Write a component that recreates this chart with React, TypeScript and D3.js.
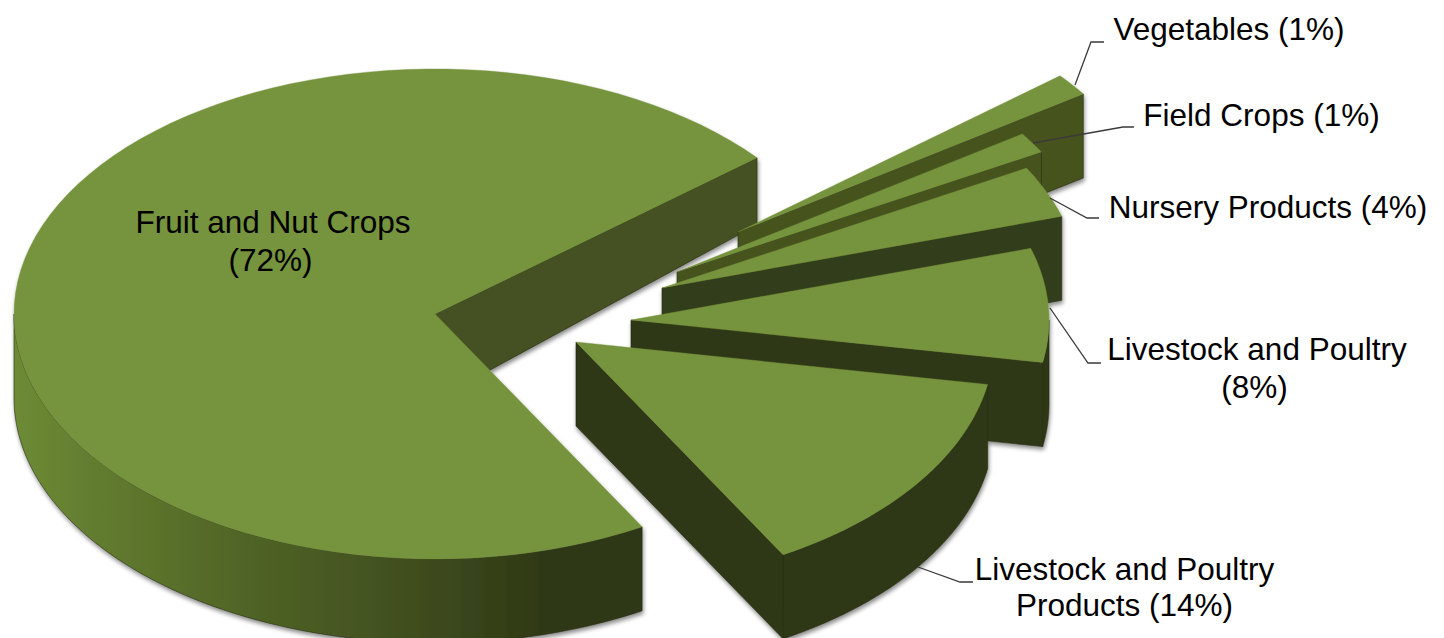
import React from "react";
import * as d3 from "d3";

// Share of agricultural value by commodity group, percent.
const categories = [
  "Fruit and Nut Crops",
  "Livestock and Poultry Products",
  "Livestock and Poultry",
  "Nursery Products",
  "Field Crops",
  "Vegetables",
];
const shares = [72, 14, 8, 4, 1, 1];

// Exploded position of each wedge's tip on the page.
const wedgeTipX = [435, 576, 631, 662, 677, 738];
const wedgeTipY = [314, 342, 320, 288, 272, 232];
const cutFaceColors = ["#445120", "#2f3817", "#2f3817", "#333d1a", "#46531f", "#46531f"];
const cutOuterDepth = [67, 84, 84, 84, 84, 84];
const cutInnerDepth = [86, 84, 84, 84, 84, 84];
// Far wedges are painted first so nearer ones overlap them.
const paintOrder = [0, 5, 4, 3, 2, 1];

// Text lines per label, anchor and baseline.
const labelLines: string[][] = [
  [categories[0], `(${shares[0]}%)`],
  [categories[1].replace(" Products", ""), `Products (${shares[1]}%)`],
  [categories[2], `(${shares[2]}%)`],
  [`${categories[3]} (${shares[3]}%)`],
  [`${categories[4]} (${shares[4]}%)`],
  [`${categories[5]} (${shares[5]}%)`],
];
const labelCenterX = [273, 1124.5, 1257, 1268, 1261.5, 1229];
const secondLineShift = [-2.5, 0, -2.5, 0, 0, 0];
const labelBaselines = [233, 580, 360, 218, 126, 40];
const labelLineGaps = [38, 36, 38, 0, 0, 0];

const leaderLines: [number, number][][] = [
  [[918, 567], [960, 582], [973, 582]],
  [[1050, 308], [1088, 363], [1101, 363]],
  [[1050, 198], [1087, 218], [1099, 218]],
  [[1033, 143], [1123, 127], [1134, 127]],
  [[1075, 85], [1091, 42], [1104, 42]],
];

const WIDTH = 1444;
const HEIGHT = 638;
const RX_LEFT = 421;
const RX_RIGHT = 418;
const RY = 245;
const TOP_COLOR = "#76933c";
const EDGE_COLOR = "#232a10";
const FONT = "'Liberation Sans', Arial, sans-serif";

const deg = Math.PI / 180;
const pie = d3
  .pie<number>()
  .sort(null)
  .startAngle(40.8 * deg)
  .endAngle(400.8 * deg);

// Foreshortening of the far side of the tilted disc: maps a wedge's true
// angle in degrees to the angle at which it lands on the ellipse.
const projectAngle = d3
  .scaleLinear()
  .domain([40.8, 300, 350.4, 379.2, 393.6, 397.2, 400.8])
  .range([39.6, 299.7, 350, 377, 389.3, 394.3, 399.6]);

const pathOf = d3.line<[number, number]>();

function App() {
  const arcs = pie(shares);

  const wedges = arcs.map((a, i) => {
    const tx = wedgeTipX[i];
    const ty = wedgeTipY[i];
    const from = projectAngle(a.startAngle / deg);
    const to = projectAngle(a.endAngle / deg);
    const at = (t: number, drop = 0): [number, number] => {
      const c = Math.cos(t * deg);
      return [tx + (c > 0 ? RX_RIGHT : RX_LEFT) * c, ty - RY * Math.sin(t * deg) + drop];
    };
    const rim = d3.range(0, 97).map((k) => at(from + ((to - from) * k) / 96));
    const top = pathOf([[tx, ty], ...rim])! + "Z";

    // Outer wall exists only where the rim faces the viewer.
    const wallFrom = Math.max(from, 180);
    const wallTo = Math.min(to, 360);
    let wall: string | null = null;
    if (wallTo > wallFrom) {
      const steps = d3.range(0, 97).map((k) => wallFrom + ((wallTo - wallFrom) * k) / 96);
      wall =
        pathOf([
          ...steps.map((t) => at(t)),
          ...steps.slice().reverse().map((t) => at(t, 84)),
        ])! + "Z";
    }

    const corner = at(from);
    const cut =
      pathOf([
        [tx, ty],
        corner,
        [corner[0], corner[1] + cutOuterDepth[i]],
        [tx, ty + cutInnerDepth[i]],
      ])! + "Z";

    return { top, wall, cut, color: cutFaceColors[i], key: categories[i], big: i === 0 };
  });

  return (
    <svg
      width={WIDTH}
      height={HEIGHT}
      viewBox={`0 0 ${WIDTH} ${HEIGHT}`}
      style={{ position: "absolute", left: 0, top: 0, display: "block", background: "#fff" }}
    >
      <defs>
        <linearGradient id="rimShade" gradientUnits="userSpaceOnUse" x1={14} x2={641} y1={0} y2={0}>
          <stop offset="0" stopColor="#6d8b35" />
          <stop offset="0.14" stopColor="#617b2f" />
          <stop offset="0.38" stopColor="#4f6325" />
          <stop offset="0.62" stopColor="#414f1f" />
          <stop offset="0.85" stopColor="#2e3815" />
          <stop offset="1" stopColor="#2f3817" />
        </linearGradient>
        <filter id="softShadow" filterUnits="userSpaceOnUse" x={0} y={0} width={WIDTH} height={HEIGHT + 20}>
          <feDropShadow dx={1} dy={3} stdDeviation={2} floodColor="#000" floodOpacity={0.45} />
        </filter>
      </defs>

      <g filter="url(#softShadow)">
        {paintOrder.map((idx) => {
          const w = wedges[idx];
          return (
            <g key={w.key}>
              {w.wall && (
                <path
                  d={w.wall}
                  fill={w.big ? "url(#rimShade)" : w.color}
                  stroke={EDGE_COLOR}
                  strokeWidth={0.6}
                />
              )}
              <path d={w.cut} fill={w.color} stroke={EDGE_COLOR} strokeWidth={0.6} />
              <path d={w.top} fill={TOP_COLOR} stroke={TOP_COLOR} strokeWidth={0.4} />
            </g>
          );
        })}
      </g>

      {leaderLines.map((pts, i) => (
        <path key={i} d={pathOf(pts)!} fill="none" stroke="#3a3a3a" strokeWidth={1.3} />
      ))}

      {labelLines.map((lines, i) => (
        <text
          key={categories[i]}
          fontFamily={FONT}
          fontSize={31.5}
          fill="#000"
          textAnchor="middle"
        >
          {lines.map((line, k) => (
            <tspan
              key={k}
              x={labelCenterX[i] + (k === 1 ? secondLineShift[i] : 0)}
              y={labelBaselines[i] + k * labelLineGaps[i]}
            >
              {line}
            </tspan>
          ))}
        </text>
      ))}
    </svg>
  );
}

export default App;
